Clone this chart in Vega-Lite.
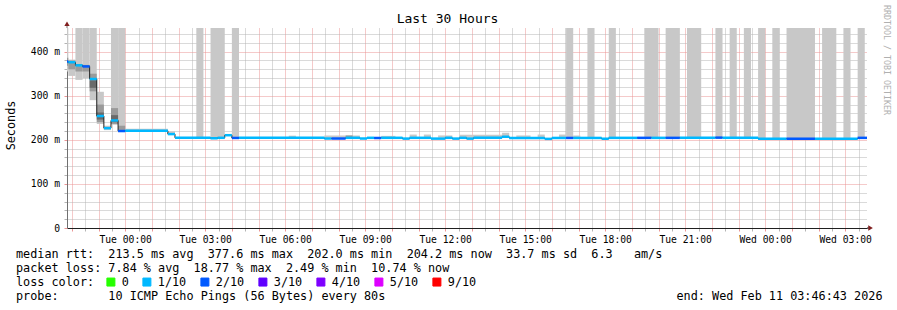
{
  "$schema": "https://vega.github.io/schema/vega-lite/v6.json",
  "width": 800,
  "height": 200,
  "autosize": {"type": "none"},
  "padding": {"left": 67, "top": 28, "right": 30, "bottom": 82},
  "background": "white",
  "config": {
    "font": "DejaVu Sans Mono",
    "view": {"stroke": null},
    "text": {"font": "DejaVu Sans Mono", "color": "black"},
    "axis": {
      "zindex": 1,
      "gridDash": [1, 1],
      "labelFont": "DejaVu Sans Mono",
      "labelFontSize": 9.7,
      "labelColor": "black",
      "titleFont": "DejaVu Sans Mono",
      "titleFontWeight": "normal",
      "titleColor": "black",
      "labelOverlap": false,
      "labelFlush": false
    }
  },
  "datasets": {
    "med": [
      {"t0": "2026-02-09T21:36:00Z", "t1": "2026-02-09T21:52:00Z", "med": 377.6, "loss": "2/10"},
      {"t0": "2026-02-09T21:52:00Z", "t1": "2026-02-09T22:08:00Z", "med": 376.0, "loss": "1/10"},
      {"t0": "2026-02-09T22:08:00Z", "t1": "2026-02-09T22:24:00Z", "med": 369.0, "loss": "1/10"},
      {"t0": "2026-02-09T22:24:00Z", "t1": "2026-02-09T22:40:00Z", "med": 366.5, "loss": "2/10"},
      {"t0": "2026-02-09T22:40:00Z", "t1": "2026-02-09T22:56:00Z", "med": 338.0, "loss": "1/10"},
      {"t0": "2026-02-09T22:56:00Z", "t1": "2026-02-09T23:12:00Z", "med": 254.0, "loss": "1/10"},
      {"t0": "2026-02-09T23:12:00Z", "t1": "2026-02-09T23:28:00Z", "med": 226.5, "loss": "1/10"},
      {"t0": "2026-02-09T23:28:00Z", "t1": "2026-02-09T23:44:00Z", "med": 244.0, "loss": "1/10"},
      {"t0": "2026-02-09T23:44:00Z", "t1": "2026-02-10T00:00:00Z", "med": 220.0, "loss": "2/10"},
      {"t0": "2026-02-10T00:00:00Z", "t1": "2026-02-10T01:36:00Z", "med": 220.5, "loss": "1/10"},
      {"t0": "2026-02-10T01:36:00Z", "t1": "2026-02-10T01:52:00Z", "med": 213.0, "loss": "1/10"},
      {"t0": "2026-02-10T01:52:00Z", "t1": "2026-02-10T03:12:00Z", "med": 204.6, "loss": "1/10"},
      {"t0": "2026-02-10T03:12:00Z", "t1": "2026-02-10T03:28:00Z", "med": 203.6, "loss": "1/10"},
      {"t0": "2026-02-10T03:28:00Z", "t1": "2026-02-10T03:44:00Z", "med": 204.6, "loss": "1/10"},
      {"t0": "2026-02-10T03:44:00Z", "t1": "2026-02-10T04:00:00Z", "med": 210.5, "loss": "1/10"},
      {"t0": "2026-02-10T04:00:00Z", "t1": "2026-02-10T04:16:00Z", "med": 204.3, "loss": "2/10"},
      {"t0": "2026-02-10T04:16:00Z", "t1": "2026-02-10T07:28:00Z", "med": 204.6, "loss": "1/10"},
      {"t0": "2026-02-10T07:28:00Z", "t1": "2026-02-10T07:44:00Z", "med": 203.0, "loss": "1/10"},
      {"t0": "2026-02-10T07:44:00Z", "t1": "2026-02-10T08:16:00Z", "med": 203.0, "loss": "2/10"},
      {"t0": "2026-02-10T08:16:00Z", "t1": "2026-02-10T08:48:00Z", "med": 204.6, "loss": "1/10"},
      {"t0": "2026-02-10T08:48:00Z", "t1": "2026-02-10T09:04:00Z", "med": 203.0, "loss": "1/10"},
      {"t0": "2026-02-10T09:04:00Z", "t1": "2026-02-10T09:20:00Z", "med": 204.6, "loss": "1/10"},
      {"t0": "2026-02-10T09:20:00Z", "t1": "2026-02-10T09:36:00Z", "med": 204.2, "loss": "2/10"},
      {"t0": "2026-02-10T09:36:00Z", "t1": "2026-02-10T10:24:00Z", "med": 204.6, "loss": "1/10"},
      {"t0": "2026-02-10T10:24:00Z", "t1": "2026-02-10T10:40:00Z", "med": 202.8, "loss": "1/10"},
      {"t0": "2026-02-10T10:40:00Z", "t1": "2026-02-10T11:28:00Z", "med": 204.6, "loss": "1/10"},
      {"t0": "2026-02-10T11:28:00Z", "t1": "2026-02-10T12:00:00Z", "med": 202.8, "loss": "1/10"},
      {"t0": "2026-02-10T12:00:00Z", "t1": "2026-02-10T12:16:00Z", "med": 204.6, "loss": "1/10"},
      {"t0": "2026-02-10T12:16:00Z", "t1": "2026-02-10T12:32:00Z", "med": 202.8, "loss": "1/10"},
      {"t0": "2026-02-10T12:32:00Z", "t1": "2026-02-10T12:48:00Z", "med": 204.6, "loss": "1/10"},
      {"t0": "2026-02-10T12:48:00Z", "t1": "2026-02-10T13:04:00Z", "med": 202.8, "loss": "1/10"},
      {"t0": "2026-02-10T13:04:00Z", "t1": "2026-02-10T14:08:00Z", "med": 204.8, "loss": "1/10"},
      {"t0": "2026-02-10T14:08:00Z", "t1": "2026-02-10T14:24:00Z", "med": 207.0, "loss": "1/10"},
      {"t0": "2026-02-10T14:24:00Z", "t1": "2026-02-10T15:44:00Z", "med": 204.3, "loss": "1/10"},
      {"t0": "2026-02-10T15:44:00Z", "t1": "2026-02-10T16:00:00Z", "med": 202.2, "loss": "1/10"},
      {"t0": "2026-02-10T16:00:00Z", "t1": "2026-02-10T16:32:00Z", "med": 204.3, "loss": "1/10"},
      {"t0": "2026-02-10T16:32:00Z", "t1": "2026-02-10T16:48:00Z", "med": 204.3, "loss": "2/10"},
      {"t0": "2026-02-10T16:48:00Z", "t1": "2026-02-10T17:52:00Z", "med": 204.3, "loss": "1/10"},
      {"t0": "2026-02-10T17:52:00Z", "t1": "2026-02-10T18:08:00Z", "med": 202.5, "loss": "1/10"},
      {"t0": "2026-02-10T18:08:00Z", "t1": "2026-02-10T19:12:00Z", "med": 204.5, "loss": "1/10"},
      {"t0": "2026-02-10T19:12:00Z", "t1": "2026-02-10T19:44:00Z", "med": 204.5, "loss": "2/10"},
      {"t0": "2026-02-10T19:44:00Z", "t1": "2026-02-10T20:16:00Z", "med": 204.5, "loss": "1/10"},
      {"t0": "2026-02-10T20:16:00Z", "t1": "2026-02-10T20:48:00Z", "med": 204.5, "loss": "2/10"},
      {"t0": "2026-02-10T20:48:00Z", "t1": "2026-02-10T22:08:00Z", "med": 204.5, "loss": "1/10"},
      {"t0": "2026-02-10T22:08:00Z", "t1": "2026-02-10T22:24:00Z", "med": 205.0, "loss": "2/10"},
      {"t0": "2026-02-10T22:24:00Z", "t1": "2026-02-10T23:44:00Z", "med": 204.5, "loss": "1/10"},
      {"t0": "2026-02-10T23:44:00Z", "t1": "2026-02-11T00:48:00Z", "med": 202.5, "loss": "1/10"},
      {"t0": "2026-02-11T00:48:00Z", "t1": "2026-02-11T01:52:00Z", "med": 202.5, "loss": "2/10"},
      {"t0": "2026-02-11T01:52:00Z", "t1": "2026-02-11T03:28:00Z", "med": 202.5, "loss": "1/10"},
      {"t0": "2026-02-11T03:28:00Z", "t1": "2026-02-11T04:00:00Z", "med": 204.5, "loss": "2/10"}
    ],
    "smoke": [
      {"t0": "2026-02-09T21:36:00Z", "t1": "2026-02-09T21:52:00Z", "lo": 355, "hi": 460, "level": "outer"},
      {"t0": "2026-02-09T21:52:00Z", "t1": "2026-02-09T22:08:00Z", "lo": 345, "hi": 382, "level": "outer"},
      {"t0": "2026-02-09T22:08:00Z", "t1": "2026-02-09T22:24:00Z", "lo": 336, "hi": 460, "level": "outer"},
      {"t0": "2026-02-09T22:24:00Z", "t1": "2026-02-09T22:40:00Z", "lo": 340, "hi": 460, "level": "outer"},
      {"t0": "2026-02-09T22:40:00Z", "t1": "2026-02-09T22:56:00Z", "lo": 290, "hi": 460, "level": "outer"},
      {"t0": "2026-02-09T22:56:00Z", "t1": "2026-02-09T23:12:00Z", "lo": 236, "hi": 309, "level": "outer"},
      {"t0": "2026-02-09T23:12:00Z", "t1": "2026-02-09T23:28:00Z", "lo": 222, "hi": 232, "level": "outer"},
      {"t0": "2026-02-09T23:28:00Z", "t1": "2026-02-09T23:44:00Z", "lo": 234, "hi": 460, "level": "outer"},
      {"t0": "2026-02-09T23:44:00Z", "t1": "2026-02-10T00:00:00Z", "lo": 219, "hi": 460, "level": "outer"},
      {"t0": "2026-02-10T00:00:00Z", "t1": "2026-02-10T01:36:00Z", "lo": 219, "hi": 225, "level": "outer"},
      {"t0": "2026-02-10T01:36:00Z", "t1": "2026-02-10T01:52:00Z", "lo": 212, "hi": 219, "level": "outer"},
      {"t0": "2026-02-10T02:40:00Z", "t1": "2026-02-10T02:56:00Z", "lo": 204, "hi": 460, "level": "outer"},
      {"t0": "2026-02-10T03:12:00Z", "t1": "2026-02-10T03:44:00Z", "lo": 204, "hi": 460, "level": "outer"},
      {"t0": "2026-02-10T04:00:00Z", "t1": "2026-02-10T04:16:00Z", "lo": 204, "hi": 460, "level": "outer"},
      {"t0": "2026-02-10T06:08:00Z", "t1": "2026-02-10T06:24:00Z", "lo": 205, "hi": 209.5, "level": "outer"},
      {"t0": "2026-02-10T07:28:00Z", "t1": "2026-02-10T08:48:00Z", "lo": 205, "hi": 210, "level": "outer"},
      {"t0": "2026-02-10T09:36:00Z", "t1": "2026-02-10T10:08:00Z", "lo": 205, "hi": 209, "level": "outer"},
      {"t0": "2026-02-10T10:40:00Z", "t1": "2026-02-10T10:56:00Z", "lo": 205, "hi": 212, "level": "outer"},
      {"t0": "2026-02-10T11:12:00Z", "t1": "2026-02-10T11:28:00Z", "lo": 205, "hi": 212, "level": "outer"},
      {"t0": "2026-02-10T11:44:00Z", "t1": "2026-02-10T12:16:00Z", "lo": 205, "hi": 210, "level": "outer"},
      {"t0": "2026-02-10T12:32:00Z", "t1": "2026-02-10T14:08:00Z", "lo": 205, "hi": 211.5, "level": "outer"},
      {"t0": "2026-02-10T14:08:00Z", "t1": "2026-02-10T14:24:00Z", "lo": 207, "hi": 216, "level": "outer"},
      {"t0": "2026-02-10T14:40:00Z", "t1": "2026-02-10T15:12:00Z", "lo": 205, "hi": 210, "level": "outer"},
      {"t0": "2026-02-10T15:28:00Z", "t1": "2026-02-10T15:44:00Z", "lo": 205, "hi": 212, "level": "outer"},
      {"t0": "2026-02-10T16:16:00Z", "t1": "2026-02-10T16:32:00Z", "lo": 205, "hi": 212, "level": "outer"},
      {"t0": "2026-02-10T16:32:00Z", "t1": "2026-02-10T16:48:00Z", "lo": 204, "hi": 460, "level": "outer"},
      {"t0": "2026-02-10T16:48:00Z", "t1": "2026-02-10T17:04:00Z", "lo": 205, "hi": 210, "level": "outer"},
      {"t0": "2026-02-10T17:20:00Z", "t1": "2026-02-10T17:36:00Z", "lo": 204, "hi": 460, "level": "outer"},
      {"t0": "2026-02-10T18:08:00Z", "t1": "2026-02-10T18:24:00Z", "lo": 204, "hi": 460, "level": "outer"},
      {"t0": "2026-02-10T19:28:00Z", "t1": "2026-02-10T20:00:00Z", "lo": 204, "hi": 460, "level": "outer"},
      {"t0": "2026-02-10T20:16:00Z", "t1": "2026-02-10T20:48:00Z", "lo": 204, "hi": 460, "level": "outer"},
      {"t0": "2026-02-10T21:04:00Z", "t1": "2026-02-10T21:36:00Z", "lo": 204, "hi": 460, "level": "outer"},
      {"t0": "2026-02-10T22:08:00Z", "t1": "2026-02-10T22:24:00Z", "lo": 204, "hi": 460, "level": "outer"},
      {"t0": "2026-02-10T22:40:00Z", "t1": "2026-02-10T22:56:00Z", "lo": 204, "hi": 460, "level": "outer"},
      {"t0": "2026-02-10T23:12:00Z", "t1": "2026-02-10T23:28:00Z", "lo": 204, "hi": 460, "level": "outer"},
      {"t0": "2026-02-10T23:44:00Z", "t1": "2026-02-11T00:00:00Z", "lo": 202, "hi": 460, "level": "outer"},
      {"t0": "2026-02-11T00:16:00Z", "t1": "2026-02-11T00:32:00Z", "lo": 202, "hi": 460, "level": "outer"},
      {"t0": "2026-02-11T00:48:00Z", "t1": "2026-02-11T01:52:00Z", "lo": 202, "hi": 460, "level": "outer"},
      {"t0": "2026-02-11T02:08:00Z", "t1": "2026-02-11T02:40:00Z", "lo": 202, "hi": 460, "level": "outer"},
      {"t0": "2026-02-11T02:56:00Z", "t1": "2026-02-11T03:12:00Z", "lo": 202, "hi": 460, "level": "outer"},
      {"t0": "2026-02-11T03:28:00Z", "t1": "2026-02-11T03:44:00Z", "lo": 202, "hi": 460, "level": "outer"},
      {"t0": "2026-02-09T21:36:00Z", "t1": "2026-02-09T21:52:00Z", "lo": 368, "hi": 386, "level": "middle"},
      {"t0": "2026-02-09T21:52:00Z", "t1": "2026-02-09T22:08:00Z", "lo": 360, "hi": 380, "level": "middle"},
      {"t0": "2026-02-09T22:08:00Z", "t1": "2026-02-09T22:24:00Z", "lo": 355, "hi": 372, "level": "middle"},
      {"t0": "2026-02-09T22:24:00Z", "t1": "2026-02-09T22:40:00Z", "lo": 355, "hi": 370, "level": "middle"},
      {"t0": "2026-02-09T22:40:00Z", "t1": "2026-02-09T22:56:00Z", "lo": 310, "hi": 350, "level": "middle"},
      {"t0": "2026-02-09T22:56:00Z", "t1": "2026-02-09T23:12:00Z", "lo": 240, "hi": 280, "level": "middle"},
      {"t0": "2026-02-09T23:28:00Z", "t1": "2026-02-09T23:44:00Z", "lo": 236, "hi": 272, "level": "middle"},
      {"t0": "2026-02-09T23:44:00Z", "t1": "2026-02-10T00:00:00Z", "lo": 220, "hi": 232, "level": "middle"},
      {"t0": "2026-02-10T08:16:00Z", "t1": "2026-02-10T08:32:00Z", "lo": 205, "hi": 210, "level": "middle"},
      {"t0": "2026-02-09T22:40:00Z", "t1": "2026-02-09T22:56:00Z", "lo": 318, "hi": 335, "level": "inner"},
      {"t0": "2026-02-09T22:56:00Z", "t1": "2026-02-09T23:12:00Z", "lo": 246, "hi": 262, "level": "inner"},
      {"t0": "2026-02-09T23:28:00Z", "t1": "2026-02-09T23:44:00Z", "lo": 240, "hi": 256, "level": "inner"}
    ]
  },
  "layer": [
    {
      "data": {"name": "smoke"},
      "mark": {"type": "rect", "clip": true},
      "encoding": {
        "x": {
          "field": "t0", "type": "temporal",
          "scale": {"type": "utc", "domain": [1770673743000, 1770781743000]},
          "axis": {
            "title": null,
            "tickCount": 60,
            "labelExpr": "datum.value % 10800000 === 0 ? utcFormat(datum.value, '%a %H:%M') : ''",
            "grid": true,
            "gridColor": {"condition": {"test": "datum.value % 3600000 === 0", "value": "#eb9595"}, "value": "#b4b4b4"},
            "tickColor": {"condition": {"test": "datum.value % 3600000 === 0", "value": "#eb9595"}, "value": "#b4b4b4"},
            "tickSize": 3,
            "domainColor": "#1f1f1f",
            "labelPadding": 3,
            "labelAngle": 0
          }
        },
        "x2": {"field": "t1"},
        "y": {
          "field": "lo", "type": "quantitative",
          "scale": {"domain": [0, 453.7], "nice": false, "zero": false},
          "axis": {
            "tickCount": 23,
            "grid": true,
            "gridColor": {"condition": {"test": "datum.value % 100 === 0", "value": "#eb9595"}, "value": "#b4b4b4"},
            "tickColor": {"condition": {"test": "datum.value % 100 === 0", "value": "#eb9595"}, "value": "#b4b4b4"},
            "tickSize": 3,
            "domainColor": "#707070",
            "labelExpr": "datum.value % 100 === 0 ? (datum.value === 0 ? '0\u00a0\u00a0' : datum.value + ' m') : ''",
            "labelPadding": 4.5,
            "title": "Seconds",
            "titleFontSize": 11.8,
            "titleX": -57,
            "titleY": 97,
            "titleAngle": 270,
            "titleAlign": "center",
            "titleBaseline": "middle"
          }
        },
        "y2": {"field": "hi"},
        "fill": {
          "field": "level", "type": "nominal",
          "scale": {"domain": ["outer", "middle", "inner"], "range": ["#c8c8c8", "#9a9a9a", "#6a6a6a"]},
          "legend": null
        }
      }
    },
    {
      "data": {"name": "med"},
      "mark": {"type": "line", "interpolate": "step-after", "color": "#1f1f1f", "strokeWidth": 1, "clip": true},
      "encoding": {
        "x": {"field": "t0", "type": "temporal"},
        "y": {"field": "med", "type": "quantitative"}
      }
    },
    {
      "data": {"name": "med"},
      "mark": {"type": "rule", "strokeWidth": 2.5, "clip": true},
      "encoding": {
        "x": {"field": "t0", "type": "temporal"},
        "x2": {"field": "t1"},
        "y": {"field": "med", "type": "quantitative"},
        "color": {
          "field": "loss", "type": "nominal",
          "scale": {
            "domain": ["0", "1/10", "2/10", "3/10", "4/10", "5/10", "9/10"],
            "range": ["#26ff00", "#00b8ff", "#0059ff", "#5e00ff", "#7e00ff", "#dd00ff", "#ff0000"]
          },
          "legend": {
            "orient": "none",
            "legendX": 38,
            "legendY": 248,
            "direction": "horizontal",
            "title": null,
            "symbolType": "square",
            "symbolSize": 64,
            "symbolStrokeWidth": 1,
            "symbolStrokeColor": "black",
            "labelFont": "DejaVu Sans Mono",
            "labelFontSize": 11.8,
            "labelColor": "black",
            "labelOffset": 5,
            "columnPadding": 11,
            "padding": 0,
            "encode": {
              "symbols": {
                "update": {
                  "fill": {"scale": "color", "field": "value"},
                  "fillOpacity": {"value": 1},
                  "stroke": {"value": "black"},
                  "strokeWidth": {"value": 1},
                  "opacity": {"value": 1}
                }
              }
            }
          }
        }
      }
    },
    {
      "data": {"values": [{"txt": "Last 30 Hours"}]},
      "mark": {"type": "text", "fontSize": 13, "align": "center", "baseline": "middle", "dx": -19.5},
      "encoding": {
        "x": {"datum": 1770727743000, "type": "temporal"},
        "y": {"datum": 474.1, "type": "quantitative"},
        "text": {"field": "txt"}
      }
    },
    {
      "data": {"values": [{"txt": "RRDTOOL / TOBI OETIKER"}]},
      "mark": {"type": "text", "fontSize": 8.3, "align": "center", "baseline": "middle", "angle": 90, "dy": -19, "color": "#b0b0b0"},
      "encoding": {
        "x": {"datum": 1770781743000, "type": "temporal"},
        "y": {"datum": 381.1, "type": "quantitative"},
        "text": {"field": "txt"}
      }
    },
    {
      "data": {"values": [{"txt": "median rtt:\u00a0\u00a0213.5 ms avg\u00a0\u00a0377.6 ms max\u00a0\u00a0202.0 ms min\u00a0\u00a0204.2 ms now\u00a0\u00a033.7 ms sd\u00a0\u00a06.3\u00a0\u00a0\u00a0am/s"}]},
      "mark": {"type": "text", "fontSize": 11.8, "align": "left", "baseline": "middle", "dx": -51},
      "encoding": {
        "x": {"datum": 1770673743000, "type": "temporal"},
        "y": {"datum": -59, "type": "quantitative"},
        "text": {"field": "txt"}
      }
    },
    {
      "data": {"values": [{"txt": "packet loss: 7.84 % avg\u00a0\u00a018.77 % max\u00a0\u00a02.49 % min\u00a0\u00a010.74 % now"}]},
      "mark": {"type": "text", "fontSize": 11.8, "align": "left", "baseline": "middle", "dx": -51},
      "encoding": {
        "x": {"datum": 1770673743000, "type": "temporal"},
        "y": {"datum": -90.75, "type": "quantitative"},
        "text": {"field": "txt"}
      }
    },
    {
      "data": {"values": [{"txt": "loss color:"}]},
      "mark": {"type": "text", "fontSize": 11.8, "align": "left", "baseline": "middle", "dx": -51},
      "encoding": {
        "x": {"datum": 1770673743000, "type": "temporal"},
        "y": {"datum": -122.5, "type": "quantitative"},
        "text": {"field": "txt"}
      }
    },
    {
      "data": {"values": [{"txt": "probe:\u00a0\u00a0\u00a0\u00a0\u00a0\u00a0\u00a010 ICMP Echo Pings (56 Bytes) every 80s\u00a0\u00a0\u00a0\u00a0\u00a0\u00a0\u00a0\u00a0\u00a0\u00a0\u00a0\u00a0\u00a0\u00a0\u00a0\u00a0\u00a0\u00a0\u00a0\u00a0\u00a0\u00a0\u00a0\u00a0\u00a0\u00a0\u00a0\u00a0\u00a0\u00a0\u00a0\u00a0\u00a0\u00a0\u00a0\u00a0\u00a0\u00a0\u00a0\u00a0\u00a0end: Wed Feb 11 03:46:43 2026"}]},
      "mark": {"type": "text", "fontSize": 11.8, "align": "left", "baseline": "middle", "dx": -51},
      "encoding": {
        "x": {"datum": 1770673743000, "type": "temporal"},
        "y": {"datum": -154.25, "type": "quantitative"},
        "text": {"field": "txt"}
      }
    },
    {
      "data": {"values": [{}]},
      "mark": {"type": "rule", "color": "#707070"},
      "encoding": {
        "x": {"datum": 1770673743000, "type": "temporal"},
        "y": {"datum": 453.7, "type": "quantitative"},
        "y2": {"datum": 463}
      }
    },
    {
      "data": {"values": [{}]},
      "mark": {"type": "point", "shape": "triangle-up", "size": 28, "filled": true, "color": "#801f1f", "opacity": 1},
      "encoding": {
        "x": {"datum": 1770673743000, "type": "temporal"},
        "y": {"datum": 463.4, "type": "quantitative"}
      }
    },
    {
      "data": {"values": [{}]},
      "mark": {"type": "rule", "color": "#1f1f1f"},
      "encoding": {
        "x": {"datum": 1770781743000, "type": "temporal"},
        "x2": {"datum": 1770782163000},
        "y": {"datum": 0, "type": "quantitative"}
      }
    },
    {
      "data": {"values": [{}]},
      "mark": {"type": "point", "shape": "triangle-right", "size": 28, "filled": true, "color": "#801f1f", "opacity": 1},
      "encoding": {
        "x": {"datum": 1770782223000, "type": "temporal"},
        "y": {"datum": 0, "type": "quantitative"}
      }
    }
  ]
}
